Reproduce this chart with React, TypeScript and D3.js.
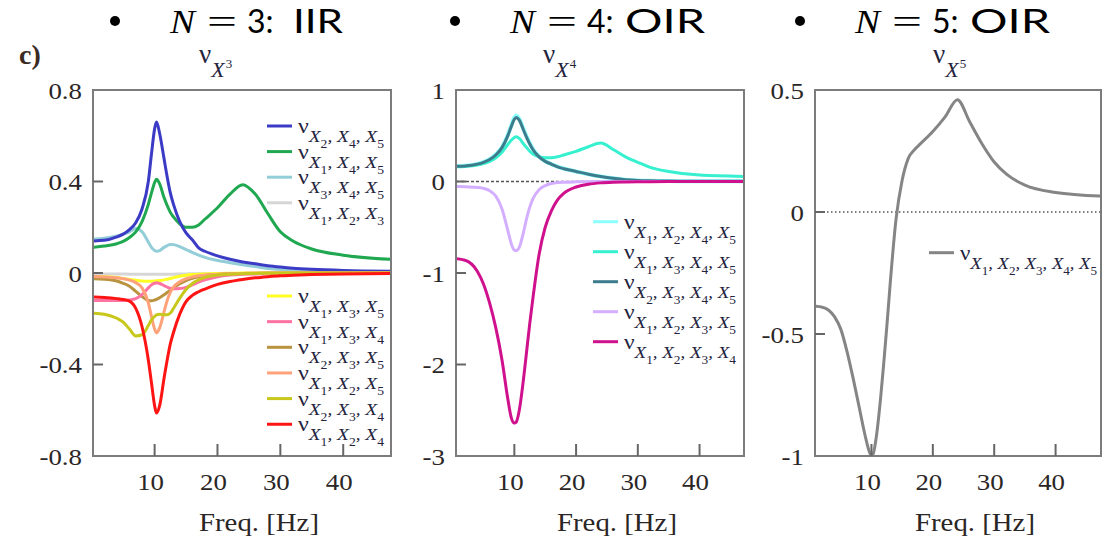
import React from 'react';
import * as d3 from 'd3';

// shared frequency grid (Hz) the curves were read at
const freqs = [0, 2, 4, 5, 6, 7, 8, 9, 9.5, 10, 10.3, 10.8, 11.5, 12, 12.5, 13, 14, 15, 16, 17, 18, 20, 22, 24, 26, 28, 30, 32, 35, 40, 47.5];

// panel 1: N = 3 (triplets)
const v245 = [0.14, 0.143, 0.158, 0.17, 0.19, 0.22, 0.28, 0.4, 0.52, 0.63, 0.66, 0.61, 0.5, 0.42, 0.35, 0.3, 0.225, 0.175, 0.145, 0.11, 0.095, 0.075, 0.06, 0.048, 0.04, 0.032, 0.026, 0.021, 0.016, 0.011, 0.008];
const v145 = [0.112, 0.118, 0.128, 0.138, 0.155, 0.18, 0.225, 0.3, 0.35, 0.395, 0.41, 0.39, 0.33, 0.295, 0.265, 0.245, 0.215, 0.2, 0.2, 0.21, 0.235, 0.285, 0.345, 0.386, 0.345, 0.26, 0.18, 0.14, 0.105, 0.078, 0.06];
const v345 = [0.148, 0.152, 0.162, 0.17, 0.18, 0.195, 0.18, 0.135, 0.112, 0.098, 0.095, 0.098, 0.112, 0.12, 0.125, 0.124, 0.115, 0.102, 0.09, 0.078, 0.068, 0.055, 0.045, 0.036, 0.028, 0.02, 0.015, 0.012, 0.008, 0.005, 0.003];
const v123 = [-0.004, -0.004, -0.004, -0.004, -0.005, -0.005, -0.006, -0.006, -0.006, -0.006, -0.006, -0.006, -0.006, -0.005, -0.005, -0.005, -0.004, -0.004, -0.003, -0.003, -0.003, -0.002, -0.002, -0.002, -0.002, -0.002, -0.002, -0.002, -0.002, -0.002, -0.002];
const v135 = [-0.015, -0.016, -0.02, -0.024, -0.028, -0.032, -0.035, -0.036, -0.036, -0.035, -0.034, -0.033, -0.03, -0.027, -0.024, -0.02, -0.014, -0.01, -0.007, -0.005, -0.004, -0.002, -0.001, 0, 0, 0, 0, 0, 0, 0, 0];
const v134 = [-0.12, -0.12, -0.12, -0.12, -0.118, -0.112, -0.095, -0.065, -0.052, -0.045, -0.043, -0.046, -0.055, -0.062, -0.067, -0.069, -0.068, -0.063, -0.052, -0.04, -0.03, -0.016, -0.009, -0.006, -0.004, -0.003, -0.002, -0.002, -0.001, -0.001, 0];
const v235 = [-0.025, -0.027, -0.035, -0.045, -0.058, -0.08, -0.103, -0.12, -0.121, -0.118, -0.115, -0.108, -0.095, -0.085, -0.075, -0.065, -0.047, -0.033, -0.023, -0.016, -0.011, -0.006, -0.003, -0.002, -0.001, 0, 0, 0, 0, 0, 0];
const v125 = [-0.015, -0.017, -0.021, -0.025, -0.031, -0.042, -0.065, -0.13, -0.19, -0.245, -0.262, -0.24, -0.17, -0.12, -0.085, -0.062, -0.038, -0.025, -0.017, -0.012, -0.009, -0.005, -0.003, -0.002, -0.001, -0.001, 0, 0, 0, 0, 0];
const v234 = [-0.175, -0.18, -0.198, -0.215, -0.245, -0.275, -0.27, -0.23, -0.205, -0.19, -0.183, -0.18, -0.182, -0.183, -0.175, -0.155, -0.11, -0.072, -0.046, -0.03, -0.019, -0.009, -0.005, -0.003, -0.002, -0.001, -0.001, 0, 0, 0, 0];
const v124 = [-0.105, -0.107, -0.112, -0.116, -0.123, -0.155, -0.235, -0.38, -0.48, -0.58, -0.612, -0.58, -0.46, -0.38, -0.31, -0.26, -0.18, -0.125, -0.098, -0.082, -0.07, -0.05, -0.037, -0.028, -0.021, -0.016, -0.012, -0.01, -0.007, -0.004, -0.002];

// panel 2: N = 4 (quadruplets)
const v1245 = [0.168, 0.172, 0.192, 0.212, 0.243, 0.295, 0.375, 0.52, 0.61, 0.7, 0.72, 0.685, 0.57, 0.49, 0.42, 0.355, 0.275, 0.222, 0.19, 0.162, 0.142, 0.11, 0.08, 0.055, 0.035, 0.02, 0.012, 0.008, 0.005, 0.003, 0.002];
const v1345 = [0.158, 0.165, 0.18, 0.195, 0.22, 0.26, 0.32, 0.41, 0.45, 0.48, 0.49, 0.47, 0.41, 0.37, 0.33, 0.3, 0.27, 0.26, 0.26, 0.27, 0.29, 0.33, 0.38, 0.42, 0.35, 0.27, 0.21, 0.155, 0.11, 0.07, 0.055];
const v2345 = [0.165, 0.17, 0.19, 0.21, 0.24, 0.29, 0.37, 0.51, 0.6, 0.68, 0.7, 0.67, 0.56, 0.48, 0.41, 0.35, 0.27, 0.22, 0.19, 0.16, 0.14, 0.11, 0.08, 0.055, 0.035, 0.02, 0.012, 0.008, 0.005, 0.003, 0.002];
const v1235 = [-0.055, -0.057, -0.065, -0.075, -0.1, -0.16, -0.3, -0.55, -0.68, -0.75, -0.755, -0.72, -0.55, -0.4, -0.28, -0.19, -0.09, -0.045, -0.022, -0.012, -0.008, -0.004, -0.002, 0, 0, 0, 0, 0, 0, 0, 0];
const v1234 = [-0.84, -0.86, -0.98, -1.12, -1.33, -1.6, -1.95, -2.4, -2.58, -2.64, -2.63, -2.5, -2.15, -1.85, -1.55, -1.28, -0.8, -0.5, -0.32, -0.2, -0.13, -0.06, -0.03, -0.015, -0.008, -0.005, -0.003, -0.002, -0.001, 0, 0];

// panel 3: N = 5
const v12345 = [-0.385, -0.39, -0.43, -0.48, -0.57, -0.68, -0.8, -0.92, -0.97, -1.0, -0.99, -0.92, -0.76, -0.62, -0.47, -0.31, -0.03, 0.13, 0.22, 0.255, 0.28, 0.33, 0.39, 0.46, 0.37, 0.28, 0.205, 0.155, 0.11, 0.08, 0.065];

const xTicks = [10, 20, 30, 40];
const yTicks1 = [0.8, 0.4, 0, -0.4, -0.8];
const yTicks2 = [1, 0, -1, -2, -3];
const yTicks3 = [0.5, 0, -0.5, -1];

const headerN = ['3', '4', '5'];
const headerKind = ['IIR', 'OIR', 'OIR'];

const serif = '"Liberation Serif", "DejaVu Serif", serif';
const sans = 'Lato, "Open Sans", sans-serif';
const textCol = '#23233d';

const Legend = ({ x, y, subs, color, width }) => (
  <g>
    <line x1={x} x2={x + 25} y1={y} y2={y} stroke={color} strokeWidth={3} />
    <text x={x + 31} y={y + 7} fill={textCol} fontFamily={serif} textLength={width} lengthAdjust="spacingAndGlyphs">
      <tspan fontSize={21}>ν</tspan>
      {subs.map((s, i) => (
        <React.Fragment key={i}>
          <tspan fontSize={17} fontStyle="italic" dy={i === 0 ? 9 : -6}>{i === 0 ? 'X' : ', X'}</tspan>
          <tspan fontSize={12} dy={6}>{s}</tspan>
        </React.Fragment>
      ))}
    </text>
  </g>
);

const Panel = ({ id, left, right, top, bottom, xDomain, yDomain, yTicks, series, legends, zero, title, titleX }) => {
  const x = d3.scaleLinear().domain(xDomain).range([left, right]);
  const y = d3.scaleLinear().domain(yDomain).range([bottom, top]);
  const line = d3.line().x((_, i) => x(freqs[i])).y(d => y(d)).curve(d3.curveMonotoneX);
  const cx = (left + right) / 2;
  return (
    <g>
      <defs>
        <clipPath id={`clip${id}`}>
          <rect x={left + 1} y={top + 1} width={right - left - 2} height={bottom - top - 2} />
        </clipPath>
      </defs>
      {zero && (
        <line x1={left} x2={right} y1={y(0)} y2={y(0)} stroke="#555" strokeWidth={1.4} strokeDasharray={zero} />
      )}
      <g clipPath={`url(#clip${id})`}>
        {series.map((s, i) => (
          <path key={i} d={line(s.values)} fill="none" stroke={s.color} strokeWidth={s.w || 3} strokeLinejoin="round" />
        ))}
      </g>
      {legends}
      <rect x={left} y={top} width={right - left} height={bottom - top} fill="none" stroke="#7c7c7c" strokeWidth={2} />
      {yTicks.slice(1, -1).map(v => (
        <line key={v} x1={left} x2={left + 10} y1={y(v)} y2={y(v)} stroke="#666" strokeWidth={2} />
      ))}
      {xTicks.map(v => (
        <line key={v} x1={x(v)} x2={x(v)} y1={bottom} y2={bottom - 12} stroke="#666" strokeWidth={2} />
      ))}
      {yTicks.map(v => (
        <g key={v} transform={`translate(${left - 11},${y(v)}) scale(1.12,1)`}>
          <text textAnchor="end" dy="0.36em" fontSize={24} fontFamily={serif} fill="#2b2626">{String(v)}</text>
        </g>
      ))}
      {xTicks.map(v => (
        <g key={v} transform={`translate(${x(v) - 4},490) scale(1.12,1)`}>
          <text textAnchor="middle" fontSize={24} fontFamily={serif} fill="#2b2626">{String(v)}</text>
        </g>
      ))}
      <text x={cx + 17} y={531} textAnchor="middle" fontSize={25} fontFamily={serif} fill="#2b2626" textLength={120} lengthAdjust="spacingAndGlyphs">Freq. [Hz]</text>
      <text x={titleX} y={63} fill={textCol} fontFamily={serif}>
        <tspan fontSize={27}>ν</tspan>
        <tspan fontSize={22} fontStyle="italic" dy={14}>X</tspan>
        <tspan fontSize={13} dy={-9} dx={1}>{title}</tspan>
      </text>
    </g>
  );
};

export default function App() {
  const s1 = [
    { values: v345, color: '#93cdd8' },
    { values: v145, color: '#1fa84f' },
    { values: v245, color: '#3b3bc6' },
    { values: v123, color: '#d6d6d6' },
    { values: v135, color: '#ffff22' },
    { values: v235, color: '#b99340' },
    { values: v134, color: '#ff73a3' },
    { values: v125, color: '#ffa27a' },
    { values: v234, color: '#c8c81c' },
    { values: v124, color: '#ff1414' },
  ];
  const leg1top = [
    { subs: ['2', '4', '5'], color: '#3b3bc6' },
    { subs: ['1', '4', '5'], color: '#1fa84f' },
    { subs: ['3', '4', '5'], color: '#93cdd8' },
    { subs: ['1', '2', '3'], color: '#d6d6d6' },
  ];
  const leg1bot = [
    { subs: ['1', '3', '5'], color: '#ffff22' },
    { subs: ['1', '3', '4'], color: '#ff73a3' },
    { subs: ['2', '3', '5'], color: '#b99340' },
    { subs: ['1', '2', '5'], color: '#ffa27a' },
    { subs: ['2', '3', '4'], color: '#c8c81c' },
    { subs: ['1', '2', '4'], color: '#ff1414' },
  ];
  const s2 = [
    { values: v1245, color: '#8cffff', w: 4 },
    { values: v1345, color: '#36f0cf' },
    { values: v2345, color: '#3d7c8c' },
    { values: v1235, color: '#d4aeff' },
    { values: v1234, color: '#cf118e' },
  ];
  const leg2 = [
    { subs: ['1', '2', '4', '5'], color: '#8cffff' },
    { subs: ['1', '3', '4', '5'], color: '#36f0cf' },
    { subs: ['2', '3', '4', '5'], color: '#3d7c8c' },
    { subs: ['1', '2', '3', '5'], color: '#d4aeff' },
    { subs: ['1', '2', '3', '4'], color: '#cf118e' },
  ];
  const s3 = [{ values: v12345, color: '#858585' }];
  const hx = [0, 340, 685];

  return (
    <svg width={1112} height={541} style={{ position: 'absolute', left: 0, top: 0, background: '#fff' }}>
      {headerN.map((n, i) => (
        <g key={n}>
          <circle cx={115 + hx[i]} cy={21} r={5} fill="#000" />
          <text x={170 + hx[i]} y={33} fontFamily={serif} fontStyle="italic" fontSize={34} textLength={25} lengthAdjust="spacingAndGlyphs">N</text>
          <text x={207 + hx[i]} y={33} fontFamily={serif} fontSize={34} textLength={30} lengthAdjust="spacingAndGlyphs">=</text>
          <text x={247 + hx[i]} y={33} fontFamily={sans} fontSize={32}>{n}:</text>
          <text x={293 + hx[i] - (headerKind[i] === 'OIR' ? 8 : 0)} y={33} fontFamily={sans} fontSize={33} textLength={headerKind[i] === 'OIR' ? 80 : 50} lengthAdjust="spacingAndGlyphs">{headerKind[i]}</text>
        </g>
      ))}
      <text x={19} y={64} fontFamily={serif} fontWeight="bold" fontSize={28} fill="#3a2a22">c)</text>

      <Panel id={1} left={93} right={391} top={90} bottom={456} xDomain={[0.2, 47.6]} yDomain={[-0.8, 0.8]}
        yTicks={yTicks1} series={s1} title="3" titleX={199}
        legends={<g>
          {leg1top.map((l, i) => <Legend key={i} x={267} y={126 + i * 25.6} subs={l.subs} color={l.color} width={86} />)}
          {leg1bot.map((l, i) => <Legend key={i} x={267} y={296 + i * 25.65} subs={l.subs} color={l.color} width={86} />)}
        </g>} />
      <Panel id={2} left={456} right={744} top={90} bottom={456} xDomain={[0.55, 47.2]} yDomain={[-3, 1]}
        yTicks={yTicks2} series={s2} zero="3,2" title="4" titleX={543}
        legends={<g>
          {leg2.map((l, i) => <Legend key={i} x={593} y={221.7 + i * 30} subs={l.subs} color={l.color} width={112} />)}
        </g>} />
      <Panel id={3} left={815} right={1101} top={90} bottom={456} xDomain={[0.8, 47.4]} yDomain={[-1, 0.5]}
        yTicks={yTicks3} series={s3} zero="1.5,2.5" title="5" titleX={933}
        legends={<g>
          <Legend x={929} y={252.7} subs={['1', '2', '3', '4', '5']} color="#858585" width={137} />
        </g>} />
    </svg>
  );
}
